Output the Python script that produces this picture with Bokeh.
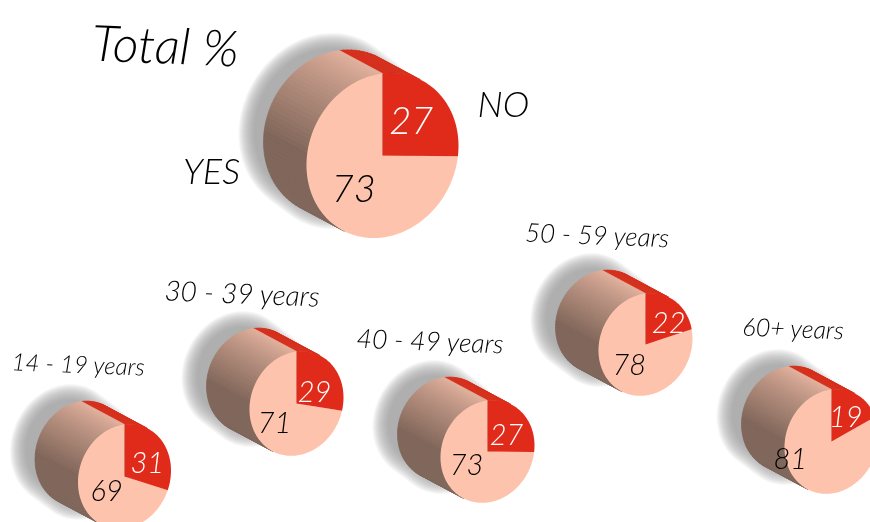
import numpy as np
from bokeh.plotting import figure
from bokeh.models import ColumnDataSource
from bokeh.core.properties import value
from bokeh.embed import file_html
from bokeh.resources import INLINE

# data
groups = ["Total %", "14 - 19 years", "30 - 39 years", "40 - 49 years", "50 - 59 years", "60+ years"]
no_pct = [27, 31, 29, 27, 22, 19]
yes_pct = [73, 69, 71, 73, 78, 81]

# layout: pie centre and radii per group
cx = [382, 124, 296, 487, 645, 831]
cy = [155, 476, 403, 451, 344, 441]
rx = [76, 46.5, 47, 47, 47, 47]
ry = [82, 52, 52, 51, 51, 52]
label_x = [165, 78, 242, 430, 597, 793]
label_y = [44, 363, 292, 340, 234, 327]
label_size = ["50px", "24px", "28px", "26.5px", "26px", "25px"]
no_nudge = [(-2, -2), (2, 4), (-2, 8), (0, 4), (7, 1), (0, 0)]
yes_nudge = [(2, 0), (3, -4), (-2, -1), (-2, -8), (0, -3), (-27, -8)]
yes_no_text = ["YES", "NO"]
yes_no_x = [211, 503]
yes_no_y = [169, 102]

FONT = "Lato Light, Lato"
PINK, RED = "#fec3ac", "#e02b1b"
SIDE_RED = "#d62e1a"
LIGHT, MID, DARK = np.array([0xe4, 0xb2, 0x9e]), np.array([0x84, 0x69, 0x5c]), "#80665a"
DX, DY = -43.0, -23.0
SHEAR = 0.126

p = figure(width=870, height=522, x_range=(0, 870), y_range=(522, 0),
           toolbar_location=None, output_backend="svg", min_border=0,
           outline_line_color=None, background_fill_color="white",
           border_fill_color="white")
p.axis.visible = False
p.grid.visible = False
p.styles = {"position": "fixed", "left": "0px", "top": "0px"}


def rim(theta, x0, y0, a, b):
    """clockwise angle from 12 o'clock, sheared ellipse"""
    return x0 + a * np.sin(theta), y0 - b * np.cos(theta) - SHEAR * a * np.sin(theta)


def hull(points, n=100):
    phi = np.linspace(0, 2 * np.pi, n, endpoint=False)
    out = []
    for f in phi:
        d = points[:, 0] * np.cos(f) + points[:, 1] * np.sin(f)
        out.append(points[np.argmax(d)])
    return np.array(out)


shadow_xs, shadow_ys = [], []
side_xs, side_ys, side_c = [], [], []
yes_xs, yes_ys, no_xs, no_ys = [], [], [], []
num_x, num_y, num_t, num_c, num_s = [], [], [], [], []
GRAD = np.radians(80)

for i in range(len(groups)):
    x0, y0, a, b = cx[i], cy[i], rx[i], ry[i]
    sweep = 2 * np.pi * no_pct[i] / 100

    # soft shadow: stacked translucent outlines
    t = np.linspace(0, 2 * np.pi, 90, endpoint=False)
    for g in range(8, -9, -1):
        pts = []
        for sx, sy in ((DX - 17, DY - 9), (DX + 3, DY + 6)):
            xx, yy = rim(t, x0 + sx, y0 + sy, a + g, b + g)
            pts.append(np.column_stack([xx, yy]))
        h = hull(np.vstack(pts))
        shadow_xs.append(h[:, 0])
        shadow_ys.append(h[:, 1])

    # extruded side, strip by strip
    edges = np.linspace(0, 2 * np.pi, 121)
    for t0, t1 in zip(edges[:-1], edges[1:]):
        x1, y1 = rim(t0, x0, y0, a, b)
        x2, y2 = rim(t1, x0, y0, a, b)
        nx, ny = (y2 - y1), -(x2 - x1)
        if nx * DX + ny * DY <= 0:
            continue
        side_xs.append([x1, x2, x2 + DX, x1 + DX])
        side_ys.append([y1, y2, y2 + DY, y1 + DY])
        tm = 0.5 * (t0 + t1)
        if tm < sweep:
            side_c.append(SIDE_RED)
        else:
            f = (2 * np.pi - tm) / GRAD
            if f >= 1:
                side_c.append(DARK)
            else:
                c = (LIGHT + (MID - LIGHT) * f).astype(int)
                side_c.append("#%02x%02x%02x" % tuple(c))

    # front face, cut from the values
    tn = np.linspace(0, sweep, 60)
    ty = np.linspace(sweep, 2 * np.pi, 160)
    xn, yn = rim(tn, x0, y0, a, b)
    xy, yy = rim(ty, x0, y0, a, b)
    no_xs.append(np.r_[x0, xn])
    no_ys.append(np.r_[y0, yn])
    yes_xs.append(np.r_[x0, xy])
    yes_ys.append(np.r_[y0, yy])

    # value labels at each slice's mid angle
    size = "38px" if i == 0 else "29px"
    mx, my = rim(sweep / 2, x0, y0, a * 0.54, b * 0.54)
    num_x.append(mx + no_nudge[i][0]); num_y.append(my + no_nudge[i][1])
    num_t.append(str(no_pct[i])); num_c.append("white"); num_s.append(size)
    mx, my = rim((sweep + 2 * np.pi) / 2, x0, y0, a * 0.54, b * 0.54)
    num_x.append(mx + yes_nudge[i][0]); num_y.append(my + yes_nudge[i][1])
    num_t.append(str(yes_pct[i])); num_c.append("black"); num_s.append(size)

p.patches(shadow_xs, shadow_ys, fill_color="#9a9d9b", fill_alpha=0.08, line_color=None)
p.patches(side_xs, side_ys, fill_color=side_c, line_color=side_c, line_width=0.7)
p.patches(yes_xs, yes_ys, fill_color=PINK, line_color=None)
p.patches(no_xs, no_ys, fill_color=RED, line_color=None)

p.text(x="x", y="y", text="t", text_color="c", text_font_size="s",
       source=ColumnDataSource(dict(x=num_x, y=num_y, t=num_t, c=num_c, s=num_s)),
       text_font=value(FONT), text_font_style="italic",
       text_align="center", text_baseline="middle")
p.text(x="x", y="y", text="t", text_color="black", text_font_size="s",
       source=ColumnDataSource(dict(x=label_x, y=label_y, t=groups, s=label_size)),
       text_font=value(FONT), text_font_style="italic", angle=-0.04,
       text_align="center", text_baseline="middle")
p.text(x=yes_no_x, y=yes_no_y, text=yes_no_text, text_color="black", text_font_size="36px",
       text_font=value(FONT), text_font_style="italic",
       text_align="center", text_baseline="middle")

open("out.html", "w").write(file_html(p, INLINE))
